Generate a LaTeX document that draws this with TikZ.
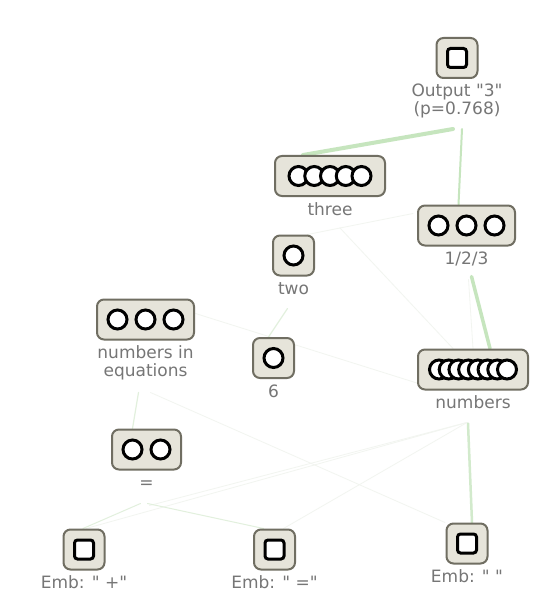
\documentclass[tikz,border=0pt]{standalone}
\usepackage{fontspec}
\setmainfont{DejaVu Sans}[Ligatures=TeXOff]
\usetikzlibrary{backgrounds}
\definecolor{boxfill}{RGB}{230,228,218}
\definecolor{boxline}{RGB}{112,110,98}
\definecolor{lblc}{RGB}{118,118,118}
\definecolor{gA}{RGB}{198,229,190}
\definecolor{gB}{RGB}{210,234,204}
\definecolor{gC}{RGB}{226,240,221}
\definecolor{gD}{RGB}{242,245,240}
\newcommand{\oq}{{\itshape "}}
\begin{document}
\begin{tikzpicture}[x=1pt,y=-1pt,
  box/.style={draw=boxline, fill=boxfill, line width=2pt, rounded corners=7pt,
              minimum height=40pt, inner sep=0pt},
  lab/.style={text=lblc, font=\fontsize{17}{18}\selectfont, inner sep=0pt,
              anchor=base, align=center},
  cir/.style={draw=black, fill=white, line width=3pt},
  sqr/.style={draw=black, fill=white, line width=3pt, rounded corners=3pt},
  eA/.style={draw=gA, line width=4pt, line cap=round},
  eB/.style={draw=gA, line width=2pt, line cap=round},
  eC/.style={draw=gA, line width=3.5pt, line cap=round},
  eD/.style={draw=gB, line width=2.5pt, line cap=round},
  eE/.style={draw=gC, line width=1.2pt, line cap=round},
  eF/.style={draw=gD, line width=0.8pt, line cap=round}]
\useasboundingbox (0,0) rectangle (552,604);

% boxes
\node[box, minimum width=41pt] (out) at (457,58) {};
\node[box, minimum width=110pt] (three) at (330,176) {};
\node[box, minimum width=97pt] (n123) at (466.5,225.5) {};
\node[box, minimum width=41pt] (two) at (293.5,255.5) {};
\node[box, minimum width=97pt] (nie) at (145.5,319.5) {};
\node[box, minimum width=41pt] (six) at (273.5,358) {};
\node[box, minimum width=110pt] (nums) at (473,369.5) {};
\node[box, minimum width=69pt] (eq) at (146.5,449.5) {};
\node[box, minimum width=41pt] (embP) at (84,549.5) {};
\node[box, minimum width=41pt] (embE) at (274.5,549.5) {};
\node[box, minimum width=41pt] (embS) at (467,543.5) {};

% glyphs inside boxes
\foreach \n in {out,embP,embE,embS}
  \draw[sqr] ([shift={(-9.5,-9.5)}]\n.center) rectangle ([shift={(9.5,9.5)}]\n.center);
\foreach \n in {two,six}
  \draw[cir] (\n.center) circle[radius=9.5pt];
\foreach \dx in {-31.5,-15.75,0,15.75,31.5}
  \draw[cir] ([shift={(\dx,0)}]three.center) circle[radius=9.5pt];
\foreach \dx in {-28,0,28} {
  \draw[cir] ([shift={(\dx,0)}]n123.center) circle[radius=9.5pt];
  \draw[cir] ([shift={(\dx,0)}]nie.center) circle[radius=9.5pt];
}
\foreach \dx in {-14,14}
  \draw[cir] ([shift={(\dx,0)}]eq.center) circle[radius=9.5pt];
\foreach \dx in {-34,-24.29,-14.57,-4.86,4.86,14.57,24.29,34}
  \draw[cir] ([shift={(\dx,0)}]nums.center) circle[radius=9.5pt];

% labels (multi-line labels: base = last line)
\node[lab] (outL) at ([shift={(0,57)}]out.center) {Output "3"\\(p=0.768)};
\node[lab] (threeL) at ([shift={(0,39)}]three.center) {three};
\node[lab] (n123L) at ([shift={(0,39)}]n123.center) {1/2/3};
\node[lab] (twoL) at ([shift={(0,39)}]two.center) {two};
\node[lab] (nieL) at ([shift={(0,57)}]nie.center) {numbers in\\equations};
\node[lab] (sixL) at ([shift={(0,39)}]six.center) {6};
\node[lab] (numsL) at ([shift={(0,39)}]nums.center) {numbers};
\node[lab] (eqL) at ([shift={(0,39)}]eq.center) {=};
\node[lab] (embPL) at ([shift={(0,39)}]embP.center) {Emb: \oq{} +"};
\node[lab] (embEL) at ([shift={(0,39)}]embE.center) {Emb: \oq{} ="};
\node[lab] (embSL) at ([shift={(0,39)}]embS.center) {Emb: \oq{} "};

% connectors
\begin{pgfonlayer}{background}
\fill[white] (0,0) rectangle (552,604);
\draw[eF] ([shift={(10,52)}]three.center) -- ([shift={(-20,0)}]nums.north);
\draw[eF] ([shift={(10,52)}]three.center) -- ([shift={(-4,-12)}]n123.west);
\draw[eF] ([shift={(10,52)}]three.center) -- ([shift={(14,0)}]two.north);
\draw[eF] ([shift={(2,54)}]n123.center) -- (nums.north);
\draw[eF] ([shift={(50,-6)}]nie.center) -- ([shift={(-45,17)}]nums.center);
\draw[eF] ([shift={(-6,53)}]nums.center) -- ([shift={(2,0)}]embP.north);
\draw[eF] ([shift={(-6,53)}]nums.center) -- ([shift={(9,0)}]embE.north);
\draw[eF] ([shift={(-6,53)}]nums.center) -- ([shift={(3,56)}]eq.center);
\draw[eF] ([shift={(5,73)}]nie.center) -- ([shift={(-22,0)}]embS.north);
\draw[eA] ([shift={(-4,71)}]out.center) -- ([shift={(-27,0)}]three.north);
\draw[eB] ([shift={(5,71)}]out.center) -- ([shift={(-8,0)}]n123.north);
\draw[eC] ([shift={(5,51)}]n123.center) -- ([shift={(17,0)}]nums.north);
\draw[eD] ([shift={(-5,54)}]nums.center) -- ([shift={(5,0)}]embS.north);
\draw[eE] ([shift={(-6,53)}]two.center) -- ([shift={(-5,0)}]six.north);
\draw[eE] ([shift={(-7,73)}]nie.center) -- ([shift={(-14,0)}]eq.north);
\draw[eF, draw=gC, line width=1pt] ([shift={(-6,54)}]eq.center) -- ([shift={(-1,0)}]embP.north);
\draw[eF, draw=gC, line width=1pt] ([shift={(1,54)}]eq.center) -- ([shift={(-11,0)}]embE.north);
\end{pgfonlayer}
\end{tikzpicture}
\end{document}
